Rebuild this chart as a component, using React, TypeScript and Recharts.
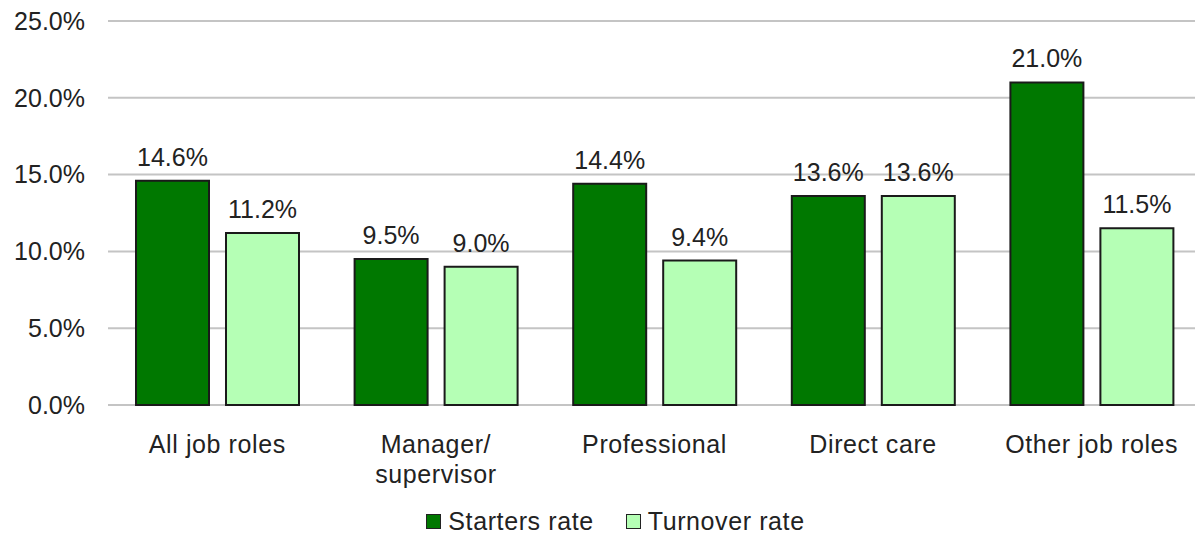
import { BarChart, Bar, CartesianGrid, XAxis, YAxis, Legend, LabelList } from 'recharts';

const categories = ['All job roles', 'Manager/\nsupervisor', 'Professional', 'Direct care', 'Other job roles'];
const startersRate = [14.6, 9.5, 14.4, 13.6, 21.0];
const turnoverRate = [11.2, 9.0, 9.4, 13.6, 11.5];
const yTicks = [0, 5, 10, 15, 20, 25];

const DARK = '#007800';
const LIGHT = '#b5ffb5';
const FONT = '"Liberation Sans", Arial, sans-serif';

const data = categories.map((name, i) => ({
  name,
  starters: startersRate[i],
  turnover: turnoverRate[i],
}));

const pct = (v: number) => `${Number(v).toFixed(1)}%`;

function CategoryTick(props: any) {
  const { x, y, payload } = props;
  const lines = String(payload.value).split('\n');
  return (
    <text x={x} y={y + 40} textAnchor="middle" fill="#222" fontSize={25} fontFamily={FONT} letterSpacing={0.6}>
      {lines.map((line, i) => (
        <tspan key={i} x={x} dy={i === 0 ? 0 : 30}>
          {line}
        </tspan>
      ))}
    </text>
  );
}

function LegendContent() {
  const items = [
    { label: 'Starters rate', color: DARK },
    { label: 'Turnover rate', color: LIGHT },
  ];
  return (
    <div
      style={{
        display: 'flex',
        justifyContent: 'center',
        gap: 32,
        paddingTop: 12,
        paddingLeft: 30,
        fontFamily: FONT,
        fontSize: 25,
        letterSpacing: 0.6,
        color: '#222',
      }}
    >
      {items.map((it) => (
        <div key={it.label} style={{ display: 'flex', alignItems: 'center', gap: 7 }}>
          <span style={{ width: 13, height: 13, background: it.color, border: '1.5px solid #222', display: 'inline-block' }} />
          <span>{it.label}</span>
        </div>
      ))}
    </div>
  );
}

export default function App() {
  return (
    <div style={{ position: 'absolute', left: 0, top: 0, width: 1195, height: 539, overflow: 'hidden', background: '#fff' }}>
      <BarChart
        width={1201}
        height={539}
        data={data}
        margin={{ top: 21, right: 0, left: 0, bottom: 0 }}
        barSize={73}
        barGap={17}
      >
        <CartesianGrid vertical={false} stroke="#c4c4c4" strokeWidth={2} />
        <XAxis
          dataKey="name"
          axisLine={false}
          tickLine={false}
          height={90}
          interval={0}
          tick={<CategoryTick />}
        />
        <YAxis
          width={108}
          domain={[0, 25]}
          ticks={yTicks}
          axisLine={false}
          tickLine={false}
          tickMargin={17}
          tickFormatter={pct}
          tick={{ fill: '#222', fontSize: 25, fontFamily: FONT }}
        />
        <Legend verticalAlign="bottom" height={44} content={<LegendContent />} />
        <Bar dataKey="starters" name="Starters rate" fill={DARK} stroke="#1a1a1a" strokeWidth={2} isAnimationActive={false}>
          <LabelList dataKey="starters" position="top" offset={15} formatter={pct} fill="#222" fontSize={25} fontFamily={FONT} />
        </Bar>
        <Bar dataKey="turnover" name="Turnover rate" fill={LIGHT} stroke="#1a1a1a" strokeWidth={2} isAnimationActive={false}>
          <LabelList dataKey="turnover" position="top" offset={15} formatter={pct} fill="#222" fontSize={25} fontFamily={FONT} />
        </Bar>
      </BarChart>
    </div>
  );
}
